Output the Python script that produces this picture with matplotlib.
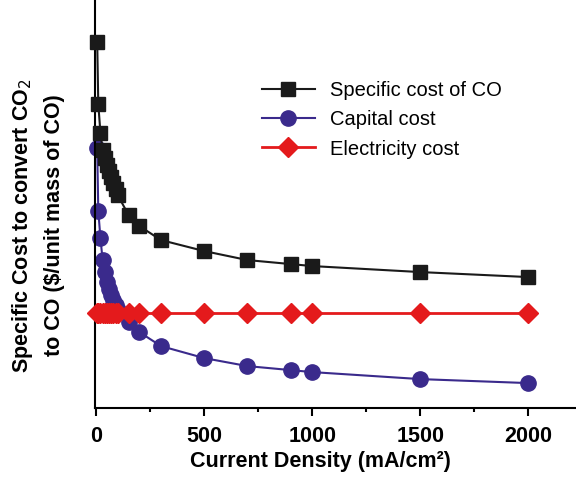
import matplotlib.pyplot as plt
from matplotlib.ticker import MultipleLocator

plt.rcParams['font.family'] = ['Liberation Sans', 'DejaVu Sans']

# current density (mA/cm2)
density = [5, 10, 20, 30, 40, 50, 60, 70, 80, 90, 100, 150, 200, 300, 500, 700, 900, 1000, 1500, 2000]

# specific cost, arbitrary units (no y scale on the original)
total_cost = [366, 304, 275, 258, 250, 243, 237, 231, 225, 219, 213, 193, 182, 168, 157, 148, 144, 142, 136, 131]
capital_cost = [260, 197, 170, 148, 136, 126, 119, 113, 108, 103, 98, 86, 76, 62, 50, 42, 38, 36, 29, 25]
electricity_cost = [95] * len(density)

fig = plt.figure(figsize=(5.76, 4.79), dpi=100)
ax = fig.add_axes([0.165, 0.148, 0.835, 0.852])

ax.plot(density, total_cost, color='#1a1a1a', lw=1.5, marker='s', ms=10,
        label='Specific cost of CO', clip_on=False, zorder=3)
ax.plot(density, capital_cost, color='#3a2a8c', lw=1.5, marker='o', ms=11,
        label='Capital cost', clip_on=False, zorder=2)
ax.plot(density, electricity_cost, color='#e41a1c', lw=2, marker='D', ms=10,
        label='Electricity cost', clip_on=False, zorder=4)

ax.set_xlim(-5, 2220)
ax.set_ylim(0, 408)
ax.spines['top'].set_visible(False)
ax.spines['right'].set_visible(False)
ax.spines['left'].set_linewidth(1.5)
ax.spines['bottom'].set_linewidth(1.5)
ax.set_yticks([])
ax.xaxis.set_major_locator(MultipleLocator(500))
ax.xaxis.set_minor_locator(MultipleLocator(250))
ax.tick_params(axis='x', which='major', length=6, width=1.5, labelsize=15.5, pad=7)
ax.tick_params(axis='x', which='minor', length=3, width=1.5)
for t in ax.get_xticklabels():
    t.set_fontweight('bold')

ax.set_xlabel('Current Density (mA/cm²)', fontsize=15.5, fontweight='bold')
ax.xaxis.set_label_coords(0.468, -0.105)
ax.set_ylabel('Specific Cost to convert CO$_{2}$\nto CO ($/unit mass of CO)', fontsize=15.5,
              fontweight='bold', linespacing=1.6)
ax.yaxis.set_label_coords(-0.062, 0.448)

ax.legend(loc='upper left', bbox_to_anchor=(0.31, 0.845), frameon=False, fontsize=14.5,
          handlelength=2.6, labelspacing=0.5, handletextpad=0.75)

fig.savefig('out.png', dpi=100)
